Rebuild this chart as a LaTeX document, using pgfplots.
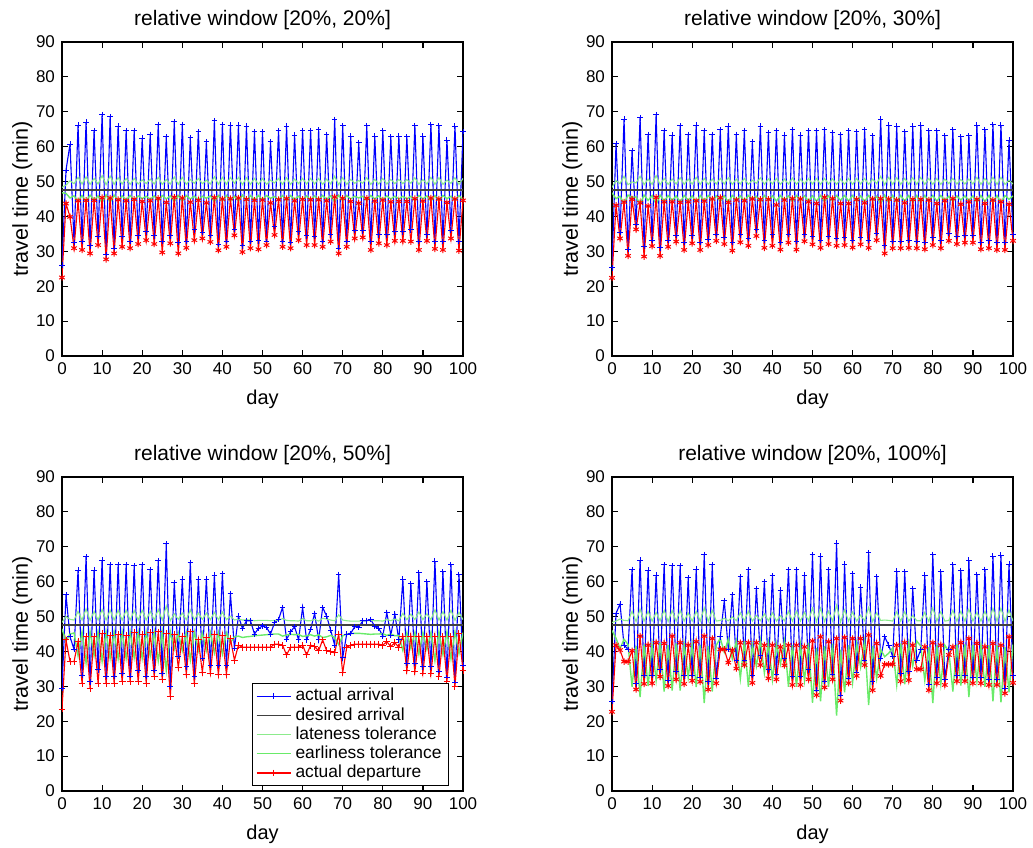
\documentclass[border=0pt]{standalone}
\usepackage{pgfplots}
\usepackage{pgfplotstable}
\pgfplotsset{compat=1.18}
\usepackage{fontspec}
\setmainfont{Liberation Sans}

% columns: day, actual arrival, actual departure, lateness tol., earliness tol.
\pgfplotstableread{
d a p l e
0 26.0 22.5 48.3 46.8
1 53.3 43.7 49.0 46.6
2 60.7 39.9 50.2 45.3
3 32.5 30.9 49.4 45.9
4 66.2 44.5 51.2 44.4
5 32.8 30.4 49.3 46.0
6 67.0 44.6 51.3 44.3
7 31.6 29.4 49.2 46.1
8 64.6 44.6 50.9 44.7
9 34.2 31.8 49.3 45.9
10 69.2 45.4 51.7 43.9
11 29.0 27.7 49.1 46.2
12 68.6 45.3 51.6 44.0
13 30.9 29.4 49.2 46.1
14 65.9 44.8 51.1 44.5
15 34.2 31.3 49.3 45.9
16 64.6 44.5 50.9 44.7
17 32.8 30.9 49.2 46.0
18 64.6 44.9 50.9 44.7
19 34.4 32.1 49.3 45.9
20 62.4 44.3 50.5 45.1
21 35.6 33.2 49.4 45.8
22 63.5 44.5 50.7 44.9
23 34.4 32.1 49.3 45.9
24 66.4 45.2 51.2 44.4
25 32.8 29.7 49.2 46.0
26 62.8 44.0 50.6 45.0
27 34.4 32.3 49.3 45.9
28 67.1 45.5 51.3 44.3
29 32.5 29.4 49.2 46.0
30 66.4 45.3 51.2 44.4
31 32.8 31.0 49.2 46.0
32 62.6 44.1 50.6 45.0
33 36.2 33.2 49.5 45.8
34 64.3 44.6 50.9 44.7
35 35.3 33.7 49.4 45.8
36 61.4 43.9 50.4 45.2
37 34.6 32.7 49.3 45.9
38 67.4 45.4 51.4 44.2
39 32.0 30.3 49.2 46.0
40 66.4 45.0 51.2 44.4
41 32.8 31.3 49.2 46.0
42 66.2 45.1 51.2 44.4
43 36.2 34.6 49.5 45.8
44 66.2 45.3 51.2 44.4
45 31.6 29.8 49.1 46.1
46 65.9 44.9 51.1 44.5
47 32.8 30.9 49.2 46.0
48 64.3 44.6 50.9 44.7
49 33.0 30.6 49.2 46.0
50 64.3 44.7 50.9 44.7
51 32.8 31.8 49.2 46.0
52 61.4 43.9 50.4 45.2
53 37.1 34.7 49.6 45.7
54 64.6 44.8 50.9 44.7
55 32.8 31.3 49.2 46.0
56 65.9 45.1 51.1 44.5
57 32.5 30.9 49.2 46.0
58 63.3 44.5 50.7 44.9
59 35.6 33.2 49.4 45.8
60 64.6 44.9 50.9 44.7
61 34.4 31.8 49.3 45.9
62 64.6 44.8 50.9 44.7
63 34.2 31.8 49.3 45.9
64 64.8 44.8 50.9 44.7
65 32.8 31.3 49.2 46.0
66 63.5 44.5 50.7 44.9
67 34.7 32.8 49.3 45.9
68 67.8 45.6 51.5 44.2
69 30.9 29.4 49.1 46.1
70 66.0 45.2 51.1 44.5
71 32.8 31.3 49.2 46.0
72 63.0 44.3 50.6 45.0
73 36.1 33.7 49.5 45.8
74 61.2 43.8 50.3 45.3
75 35.9 34.0 49.5 45.8
76 66.0 45.2 51.1 44.5
77 32.8 30.4 49.2 46.0
78 63.0 44.4 50.6 45.0
79 34.7 32.3 49.3 45.9
80 64.5 44.7 50.9 44.7
81 34.7 31.8 49.3 45.9
82 62.8 44.2 50.6 45.0
83 35.6 33.0 49.4 45.8
84 63.0 44.3 50.6 45.0
85 35.6 33.0 49.4 45.8
86 62.8 44.3 50.6 45.0
87 36.2 32.8 49.5 45.8
88 66.0 45.1 51.1 44.5
89 32.8 30.4 49.2 46.0
90 63.0 44.4 50.6 45.0
91 34.7 33.0 49.3 45.9
92 66.4 45.3 51.2 44.4
93 32.8 30.7 49.2 46.0
94 66.0 45.0 51.1 44.5
95 32.8 30.4 49.2 46.0
96 61.9 44.0 50.4 45.1
97 36.1 33.7 49.5 45.8
98 65.9 45.0 51.1 44.5
99 32.8 30.2 49.2 46.0
100 64.3 44.6 50.9 44.7
}\winA

\pgfplotstableread{
d a p l e
0 25.3 22.4 48.3 46.8
1 60.9 43.2 50.3 45.1
2 35.4 33.7 49.4 45.8
3 67.9 44.1 51.5 43.7
4 30.5 28.7 49.1 46.1
5 58.8 44.9 49.9 45.5
6 37.6 36.3 49.6 45.6
7 68.3 43.9 51.5 43.6
8 31.5 28.5 49.1 46.1
9 63.5 43.0 50.7 44.6
10 33.2 31.5 49.2 46.0
11 69.2 45.5 51.7 43.5
12 31.0 28.7 49.1 46.1
13 64.6 44.2 50.9 44.4
14 33.2 31.3 49.2 46.0
15 63.3 44.2 50.7 44.6
16 34.6 32.8 49.3 45.9
17 66.0 44.0 51.1 44.1
18 32.5 30.4 49.2 46.0
19 63.5 44.2 50.7 44.6
20 34.4 32.3 49.3 45.9
21 66.2 44.5 51.2 44.0
22 32.5 30.4 49.2 46.0
23 64.5 44.4 50.9 44.4
24 33.5 31.8 49.2 46.0
25 63.5 45.0 50.7 44.6
26 34.7 33.0 49.3 45.9
27 64.8 45.4 50.9 44.3
28 34.0 32.1 49.3 45.9
29 65.9 44.0 51.1 44.1
30 32.5 30.2 49.2 46.0
31 63.5 44.7 50.7 44.6
32 34.7 32.6 49.3 45.9
33 64.6 44.5 50.9 44.4
34 33.7 31.6 49.2 46.0
35 61.4 45.0 50.4 45.0
36 36.2 34.4 49.5 45.8
37 65.9 44.9 51.1 44.1
38 33.2 31.0 49.2 46.0
39 64.1 44.9 50.8 44.5
40 34.7 31.6 49.3 45.9
41 64.6 43.3 50.9 44.4
42 32.5 30.5 49.2 46.0
43 63.3 44.7 50.7 44.6
44 34.9 32.5 49.3 45.9
45 64.9 45.1 51.0 44.3
46 32.8 30.5 49.2 46.0
47 63.3 45.0 50.7 44.6
48 34.7 32.9 49.3 45.9
49 64.6 44.2 50.9 44.4
50 34.2 32.0 49.3 45.9
51 64.6 43.7 50.9 44.4
52 33.2 31.0 49.2 46.0
53 64.8 45.5 50.9 44.3
54 34.2 32.1 49.3 45.9
55 64.1 45.1 50.8 44.5
56 33.7 31.6 49.2 46.0
57 63.5 43.7 50.7 44.6
58 33.9 31.8 49.2 46.0
59 64.5 43.7 50.9 44.4
60 33.2 31.1 49.2 46.0
61 64.3 44.9 50.9 44.4
62 34.0 32.0 49.3 45.9
63 64.8 43.9 50.9 44.3
64 33.2 31.0 49.2 46.0
65 63.1 45.0 50.7 44.6
66 35.2 33.2 49.4 45.8
67 67.9 45.1 51.5 43.7
68 31.6 29.4 49.1 46.1
69 66.2 45.0 51.2 44.0
70 32.8 30.9 49.2 46.0
71 65.9 44.7 51.1 44.1
72 32.8 30.9 49.2 46.0
73 64.3 43.9 50.9 44.4
74 33.2 31.0 49.2 46.0
75 65.9 44.9 51.1 44.1
76 32.8 30.9 49.2 46.0
77 66.2 44.9 51.2 44.0
78 32.5 30.6 49.2 46.0
79 64.5 44.7 50.9 44.4
80 33.9 31.8 49.2 46.0
81 64.6 43.7 50.9 44.4
82 33.0 30.9 49.2 46.0
83 63.1 44.5 50.7 44.6
84 35.2 33.0 49.4 45.8
85 64.8 45.1 50.9 44.3
86 34.2 32.1 49.3 45.9
87 62.8 43.5 50.6 44.7
88 34.6 32.5 49.3 45.9
89 63.1 44.2 50.7 44.6
90 34.6 32.5 49.3 45.9
91 66.2 44.9 51.2 44.0
92 32.6 30.6 49.2 46.0
93 64.8 43.7 50.9 44.3
94 33.0 30.9 49.2 46.0
95 66.4 44.7 51.2 44.0
96 32.5 30.4 49.2 46.0
97 66.2 44.2 51.2 44.0
98 32.5 30.4 49.2 46.0
99 61.9 43.5 50.4 44.9
100 34.7 33.0 49.3 45.9
}\winB

\pgfplotstableread{
d a p l e
0 29.5 23.5 48.3 46.5
1 56.2 43.3 50.0 43.0
2 44.2 37.1 49.2 45.0
3 40.6 37.1 49.0 45.3
4 63.3 42.8 51.5 38.8
5 33.2 30.9 49.0 45.6
6 67.1 44.4 52.2 36.7
7 31.3 29.4 48.9 45.7
8 63.3 44.4 51.5 38.8
9 34.7 30.9 49.0 45.6
10 66.2 45.2 52.0 37.2
11 32.9 30.7 49.0 45.6
12 64.8 44.7 51.8 38.0
13 32.9 30.9 49.0 45.6
14 64.9 44.9 51.8 37.9
15 33.7 31.3 49.0 45.6
16 64.8 44.7 51.8 38.0
17 32.9 31.3 49.0 45.6
18 64.5 45.4 51.7 38.2
19 34.5 31.3 49.0 45.6
20 64.8 44.9 51.8 38.0
21 32.9 30.9 49.0 45.6
22 63.5 45.4 51.5 38.7
23 34.5 32.8 49.0 45.6
24 66.0 45.6 52.0 37.3
25 33.7 32.0 49.0 45.6
26 70.8 45.2 53.0 34.7
27 29.9 27.0 48.8 45.8
28 59.8 45.0 50.8 40.7
29 38.5 35.4 49.2 45.3
30 60.7 44.2 51.0 40.2
31 35.6 33.5 49.1 45.4
32 65.5 45.6 51.9 37.6
33 32.8 30.7 49.0 45.6
34 60.7 43.3 51.0 40.2
35 38.0 34.0 49.2 45.3
36 60.7 44.1 51.0 40.2
37 36.1 33.8 49.1 45.4
38 61.9 44.8 51.2 39.6
39 36.1 33.4 49.1 45.4
40 62.4 44.6 51.3 39.3
41 36.1 33.4 49.1 45.4
42 56.6 43.7 50.1 42.5
43 40.9 37.5 49.0 44.2
44 50.1 41.8 49.3 44.4
45 46.6 41.2 49.0 44.0
46 48.8 41.2 49.1 44.2
47 48.8 41.2 49.0 44.3
48 45.0 41.2 48.8 44.5
49 46.6 41.2 48.9 44.6
50 47.3 41.2 48.9 44.7
51 46.9 41.2 48.9 44.8
52 45.0 41.2 48.8 44.9
53 48.2 42.1 48.9 45.0
54 49.2 42.1 49.0 45.0
55 52.6 41.8 49.4 44.4
56 43.5 39.0 48.9 44.7
57 45.6 41.2 48.8 44.9
58 47.1 41.2 48.8 44.8
59 43.3 41.2 48.7 44.9
60 52.6 41.8 49.4 44.3
61 43.3 39.0 48.8 44.5
62 46.3 41.8 48.8 44.8
63 50.9 41.4 49.2 44.4
64 43.3 40.2 48.7 44.8
65 52.6 43.3 49.5 44.0
66 50.1 40.2 49.3 44.2
67 46.1 39.9 49.0 44.6
68 41.8 39.6 48.8 44.0
69 62.1 45.0 50.5 42.0
70 38.2 33.9 49.0 44.5
71 45.0 41.2 48.8 45.0
72 45.2 41.8 48.7 45.1
73 47.1 42.1 48.7 45.2
74 46.9 42.1 48.7 45.2
75 48.8 42.1 48.8 45.1
76 48.8 42.1 48.8 45.0
77 49.2 42.1 48.9 44.9
78 47.1 42.1 48.8 45.0
79 46.6 42.1 48.8 45.0
80 44.4 41.8 48.7 45.1
81 51.1 42.8 49.2 44.6
82 44.7 41.4 48.8 45.0
83 50.7 42.5 49.3 44.5
84 43.3 41.2 48.8 44.6
85 60.7 44.4 50.9 40.3
86 36.6 34.5 49.1 45.4
87 59.5 44.4 50.7 40.9
88 36.6 34.2 49.1 45.4
89 62.6 44.2 51.3 39.2
90 35.6 33.8 49.1 45.4
91 60.0 44.4 50.8 40.6
92 35.6 33.6 49.1 45.4
93 65.9 44.4 51.9 37.4
94 34.3 32.8 49.0 45.6
95 62.8 44.2 51.4 39.1
96 32.5 31.5 49.0 45.6
97 64.9 44.2 51.8 37.9
98 31.0 30.0 48.9 45.7
99 62.1 45.2 51.2 39.4
100 36.1 34.5 49.1 45.4
}\winC

\pgfplotstableread{
d a p l e
0 25.6 22.7 48.3 46.0
1 50.9 41.8 48.7 43.8
2 53.6 40.4 49.3 40.8
3 41.8 37.1 48.9 43.5
4 40.6 37.1 48.8 42.0
5 63.5 40.2 51.5 29.9
6 30.7 29.1 48.6 41.5
7 66.2 44.4 52.1 26.9
8 33.2 30.7 48.7 42.0
9 63.3 41.8 51.5 30.1
10 33.2 30.9 48.7 42.0
11 61.9 42.5 51.2 31.7
12 34.7 32.8 48.8 42.5
13 64.8 42.3 51.8 28.5
14 31.8 30.1 48.6 41.8
15 64.5 44.4 51.7 28.8
16 34.2 32.0 48.7 42.3
17 64.5 42.5 51.7 28.8
18 33.0 30.7 48.7 42.0
19 61.1 41.8 51.0 32.5
20 33.2 31.6 48.7 42.0
21 63.6 42.8 51.5 29.8
22 32.5 31.3 48.7 41.9
23 67.8 44.4 52.5 25.2
24 31.3 29.1 48.6 41.6
25 64.8 43.7 51.8 28.5
26 32.3 30.9 48.7 41.8
27 44.2 40.6 48.9 43.8
28 54.5 40.6 49.5 39.8
29 40.6 36.8 48.8 43.5
30 56.2 40.4 49.9 37.9
31 37.5 35.1 48.8 43.0
32 61.4 42.5 51.1 32.2
33 37.3 36.1 48.8 43.0
34 63.5 42.5 51.5 29.9
35 33.2 31.0 48.7 42.0
36 58.1 42.5 50.3 35.8
37 38.7 36.1 48.8 43.2
38 60.0 41.8 50.8 33.8
39 34.7 32.3 48.8 42.5
40 61.7 41.8 51.1 31.9
41 33.5 32.0 48.7 42.2
42 57.6 41.3 50.2 36.4
43 38.0 36.0 48.8 43.0
44 63.5 41.8 51.5 29.9
45 32.8 30.4 48.7 41.9
46 63.5 41.8 51.5 29.9
47 32.8 30.4 48.7 41.9
48 61.9 41.3 51.2 31.7
49 34.7 32.0 48.8 42.5
50 67.7 43.0 52.4 25.3
51 28.9 27.5 48.5 41.0
52 67.3 44.2 52.4 25.7
53 31.3 29.7 48.6 41.6
54 63.5 42.8 51.5 29.9
55 33.5 32.0 48.7 42.2
56 71.0 43.7 53.2 21.6
57 27.5 25.9 48.5 40.5
58 65.0 44.0 51.9 28.3
59 32.3 30.9 48.7 41.8
60 62.4 43.7 51.3 31.1
61 34.0 33.0 48.7 42.3
62 58.4 43.7 50.4 35.5
63 37.3 36.1 48.8 43.0
64 68.3 44.7 52.6 24.6
65 31.3 28.9 48.6 41.6
66 61.4 42.3 51.1 32.2
67 38.0 33.0 48.9 40.5
68 44.2 36.3 49.0 38.5
69 41.8 36.3 48.9 39.5
70 38.5 36.3 48.7 41.0
71 63.0 41.8 51.4 30.4
72 33.7 31.5 48.7 42.3
73 62.9 42.5 51.4 30.6
74 34.2 31.8 48.7 42.4
75 58.1 41.8 50.3 35.8
76 37.5 34.9 48.8 43.0
77 40.5 34.9 48.8 41.5
78 61.9 41.3 51.2 31.7
79 30.5 28.9 48.6 41.3
80 67.8 42.5 52.5 25.2
81 32.5 30.9 48.7 41.9
82 62.9 41.8 51.4 30.6
83 32.0 30.4 48.7 41.8
84 40.5 39.0 48.9 40.0
85 64.8 41.3 51.8 28.5
86 33.0 31.5 48.7 42.0
87 63.2 42.5 51.5 30.2
88 33.0 31.5 48.7 42.0
89 66.2 43.7 52.1 26.9
90 32.5 30.9 48.7 41.9
91 62.1 42.3 51.2 31.4
92 32.5 30.9 48.7 41.9
93 63.5 41.3 51.5 29.9
94 32.0 30.4 48.7 41.8
95 67.3 42.3 52.4 25.7
96 32.0 30.4 48.7 41.8
97 67.6 41.8 52.4 25.4
98 29.5 28.0 48.6 41.2
99 65.0 44.2 51.9 28.3
100 33.0 31.0 48.7 42.0
}\winD

\definecolor{latec}{RGB}{140,235,140}
\definecolor{earlyc}{RGB}{105,235,105}

\pgfplotsset{
  panel/.style={
    scale only axis, width=200.5pt, height=157pt,
    xmin=0, xmax=100, ymin=0, ymax=90,
    xtick={0,10,...,100}, ytick={0,10,...,90},
    tick align=inside, major tick length=3pt,
    axis line style={line width=0.8pt},
    tick style={black, line width=0.6pt},
    /pgf/number format/assume math mode=true,
    tick label style={font=\fontsize{8.5}{10}\selectfont},
    xlabel style={font=\fontsize{10}{12}\selectfont, yshift=-0.5pt},
    ylabel style={font=\fontsize{10.8}{12}\selectfont, yshift=-5pt},
    title style={font=\fontsize{10.5}{12}\selectfont, yshift=-3.5pt},
    xlabel={day}, ylabel={travel time (min)},
    clip=true,
  },
  arr/.style={color=blue, draw=blue, line width=0.55pt, mark=+, mark size=1.4pt,
    mark options={draw=blue, line width=0.5pt}},
  des/.style={color=black!75, draw=black!75, line width=0.8pt},
  late/.style={color=latec, draw=latec, line width=0.55pt},
  early/.style={color=earlyc, draw=earlyc, line width=0.7pt},
  depx/.style={color=red, draw=red, line width=0.55pt, mark=asterisk, mark size=1.6pt,
    mark options={draw=red, line width=0.5pt}},
  depp/.style={color=red, draw=red, line width=0.55pt, mark=+, mark size=1.7pt,
    mark options={draw=red, line width=0.5pt}},
}

\begin{document}
\begin{tikzpicture}
\useasboundingbox (0,0) rectangle (516.5pt,423.5pt);

\begin{axis}[panel, at={(31pt,245.5pt)}, anchor=south west,
  title={relative window [20\%, 20\%]}]
  \addplot[arr] table[x=d,y=a]{\winA};
  \addplot[des] coordinates {(0,47.5) (100,47.5)};
  \addplot[late] table[x=d,y=l]{\winA};
  \addplot[early] table[x=d,y=e]{\winA};
  \addplot[depx] table[x=d,y=p]{\winA};
\end{axis}

\begin{axis}[panel, at={(306pt,245.5pt)}, anchor=south west,
  title={relative window [20\%, 30\%]}]
  \addplot[arr] table[x=d,y=a]{\winB};
  \addplot[des] coordinates {(0,47.5) (100,47.5)};
  \addplot[late] table[x=d,y=l]{\winB};
  \addplot[early] table[x=d,y=e]{\winB};
  \addplot[depx] table[x=d,y=p]{\winB};
\end{axis}

\begin{axis}[panel, at={(306pt,28pt)}, anchor=south west,
  title={relative window [20\%, 100\%]}]
  \addplot[arr] table[x=d,y=a]{\winD};
  \addplot[des] coordinates {(0,47.5) (100,47.5)};
  \addplot[late] table[x=d,y=l]{\winD};
  \addplot[early] table[x=d,y=e]{\winD};
  \addplot[depx] table[x=d,y=p]{\winD};
\end{axis}

\begin{axis}[panel, at={(31pt,28pt)}, anchor=south west,
  title={relative window [20\%, 50\%]},
  legend style={at={(0.965,0.016)}, anchor=south east,
    font=\fontsize{8.7}{10}\selectfont,
    inner sep=1.5pt, row sep=0pt, cells={anchor=west},
    nodes={inner ysep=0.9pt}}]
  \addplot[arr] table[x=d,y=a]{\winC};
  \addlegendentry{actual arrival}
  \addplot[des] coordinates {(0,47.5) (100,47.5)};
  \addlegendentry{desired arrival}
  \addplot[late] table[x=d,y=l]{\winC};
  \addlegendentry{lateness tolerance}
  \addplot[early] table[x=d,y=e]{\winC};
  \addlegendentry{earliness tolerance}
  \addplot[depp] table[x=d,y=p]{\winC};
  \addlegendentry{actual departure}
\end{axis}
\end{tikzpicture}
\end{document}
